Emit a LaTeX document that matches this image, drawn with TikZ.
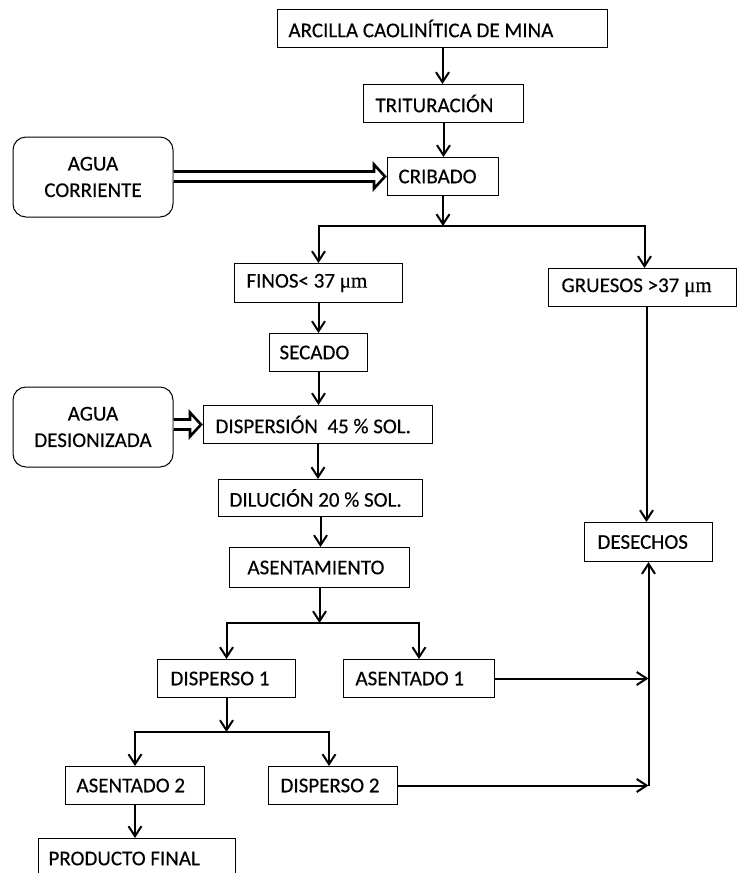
\documentclass[tikz,border=0pt]{standalone}
\usepackage{fontspec}
\setmainfont{Carlito}[FakeBold=0.3]
\newfontfamily\tms{Liberation Serif}[FakeBold=0.3]
\usetikzlibrary{arrows.meta,calc}
\newcommand{\bx}[7]{%
  \pgfmathsetmacro{\bw}{#4-#2-2*#6}%
  \pgfmathsetmacro{\bh}{#5-#3}%
  \node[box,anchor=north west,inner xsep=#6pt,minimum height=\bh pt] (#1) at (#2,#3) {\makebox[\bw pt][l]{#7}};}
\newcommand{\hollowarrow}[2]{%
  \draw[hollow] ($(#1.east |- #2.west)+(0,-5)$) -- ($(#2.west)+(-13,-5)$) -- ($(#2.west)+(-13,-12)$)
     -- ($(#2.west)+(-2,0)$) -- ($(#2.west)+(-13,12)$) -- ($(#2.west)+(-13,5)$) -- ($(#1.east |- #2.west)+(0,5)$);}
\begin{document}
\begin{tikzpicture}[x=1pt,y=-1pt,
  box/.style={draw,line width=1pt,inner ysep=0pt,font=\fontsize{21}{26}\selectfont},
  rbox/.style={draw,line width=1pt,rounded corners=13pt,align=center,minimum width=160pt,minimum height=80pt,font=\fontsize{21}{26.5}\selectfont},
  arr/.style={line width=2pt,-{Straight Barb[length=10pt,width=13pt,line width=2pt]}},
  hollow/.style={line width=2.6pt,fill=white,line join=miter}]
\useasboundingbox (0,0) rectangle (737,873);
\clip (0,0) rectangle (737,873);
\fill[white] (0,0) rectangle (737,873);
% boxes
\bx{arc}{277}{9}{607}{47}{11}{ARCILLA CAOLINÍTICA DE MINA}
\bx{tri}{363}{84}{523}{122}{12}{TRITURACIÓN}
\bx{crib}{387}{157}{498}{195}{11}{CRIBADO}
\bx{finos}{234}{263}{402}{302}{12}{FINOS< 37 {\tms μm}}
\bx{gru}{548}{268}{736}{306}{13}{GRUESOS >37 {\tms μm}}
\bx{sec}{269}{333}{367}{371}{10}{SECADO}
\bx{disp}{203}{405}{432}{443}{12}{DISPERSIÓN\ \ 45 \% SOL.}
\bx{dil}{218}{479}{422}{516}{11}{DILUCIÓN 20 \% SOL.}
\bx{asen}{229}{547}{409}{587}{18}{ASENTAMIENTO}
\bx{des}{584}{522}{712}{561}{13}{DESECHOS}
\bx{d1}{157}{659}{295}{697}{13}{DISPERSO 1}
\bx{a1}{343}{659}{494}{697}{12}{ASENTADO 1}
\bx{a2}{65}{766}{204}{804}{11}{ASENTADO 2}
\bx{d2}{268}{766}{397}{804}{12}{DISPERSO 2}
\bx{prod}{38}{838}{235}{878}{10}{PRODUCTO FINAL}
\node[rbox] (ac) at (93,177) {AGUA\\CORRIENTE};
\node[rbox] (ad) at (93,427) {AGUA\\DESIONIZADA};
% connectors
\draw[arr] (arc.south) -- (arc.south |- tri.north);
\draw[arr] (tri.south) -- (tri.south |- crib.north);
\coordinate (b1) at ([yshift=-30pt]crib.south);
\draw[arr] (crib.south) -- (b1);
\draw[arr] (b1) -| (finos.north);
\draw[arr] (b1) -| ([xshift=2pt]gru.north);
\draw[arr] (finos.south) -- (finos.south |- sec.north);
\draw[arr] (sec.south) -- (sec.south |- disp.north);
\draw[arr] (disp.south) -- (disp.south |- dil.north);
\draw[arr] (dil.south) -- (dil.south |- asen.north);
\coordinate (b2) at ([yshift=-35pt]asen.south);
\draw[arr] (asen.south) -- (b2);
\draw[arr] (b2) -| (d1.north);
\draw[arr] (b2) -| (a1.north);
\coordinate (b3) at ([yshift=-34pt]d1.south);
\draw[arr] (d1.south) -- (b3);
\draw[arr] (b3) -| (a2.north);
\draw[arr] (b3) -| ([xshift=-4pt]d2.north);
\draw[arr] (a2.south) -- (a2.south |- prod.north);
\draw[arr] ([xshift=4pt]gru.south) -- ([xshift=4pt]gru.south |- des.north);
\coordinate (j) at (d2.east -| des.south);
\draw[arr] (d2.east) -- (j);
\draw[arr] (j) -- (des.south);
\draw[arr] (a1.east) -- (a1.east -| j);
\hollowarrow{ac}{crib}
\hollowarrow{ad}{disp}
\end{tikzpicture}
\end{document}
